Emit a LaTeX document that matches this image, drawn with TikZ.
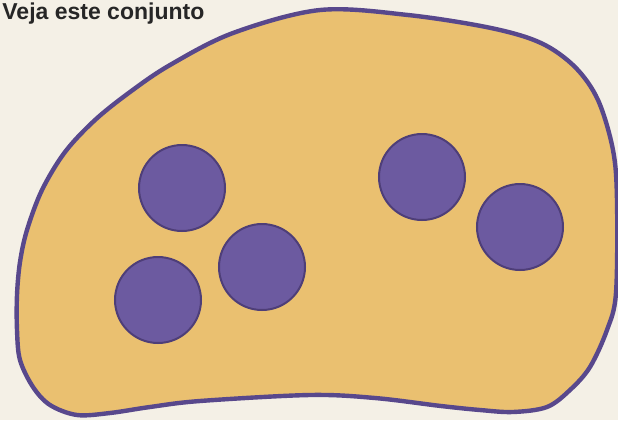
\documentclass[tikz,border=0pt]{standalone}
\usepackage{fontspec}
\setsansfont{Liberation Sans}
\usepackage{tikz}
\usetikzlibrary{positioning}
\usetikzlibrary{calc}

\definecolor{paper}{RGB}{244,240,230}
\definecolor{setfill}{RGB}{234,192,112}
\definecolor{setline}{RGB}{88,72,140}
\definecolor{elemfill}{RGB}{108,90,160}
\definecolor{elemline}{RGB}{78,62,120}

\begin{document}
\begin{tikzpicture}[x=0.5pt, y=-0.5pt, elem/.style={circle, draw=elemline, line width=1pt, fill=elemfill, inner sep=0pt, minimum size=43pt}]

        \clip (0,0) rectangle (618,420);
        \fill[paper] (0,0) rectangle (618,420);

        \node[anchor=base west, inner sep=0pt, font=\sffamily\bfseries\fontsize{11.5}{13}\selectfont, text=black!85] (title) at (2,19) {Veja este conjunto};

        % the set
        \draw[setline, line width=2.2pt, fill=setfill] plot[smooth cycle, tension=0.55] coordinates {
          (320,10) (408,15) (491,28) (541,43) (575,67) (598,100) (613,150) (617,200)
          (616,293) (607,330) (590,367) (570,390) (547,407) (513,412) (480,410)
          (441,406) (375,398) (310,395) (200,401) (150,407) (110,413) (77,415)
          (50,405) (33,387) (20,360) (17,330) (17,295) (20,262) (27,230) (42,190)
          (65,152) (95,120) (130,92) (170,65) (233,33)};

        % elements
        \node[elem] (e1) at (182,188) {};
        \node[elem] (e2) at (158,300) {};
        \node[elem] (e3) at (262,267) {};
        \node[elem] (e4) at (422,177) {};
        \node[elem] (e5) at (520,227) {};

      \end{tikzpicture}
\end{document}
